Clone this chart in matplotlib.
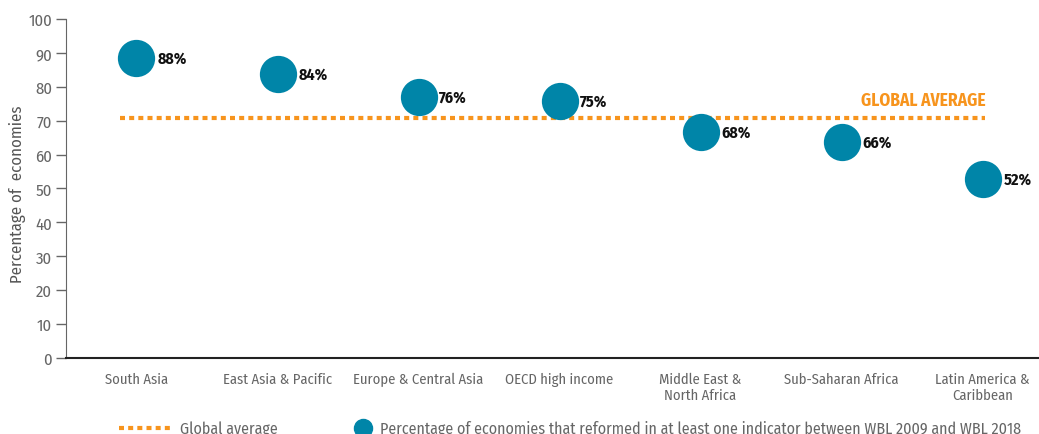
import matplotlib
matplotlib.use("Agg")
import matplotlib.pyplot as plt
from matplotlib.lines import Line2D

# data
regions = ["South Asia", "East Asia & Pacific", "Europe & Central Asia", "OECD high income",
           "Middle East &\nNorth Africa", "Sub-Saharan Africa", "Latin America &\nCaribbean"]
dot_values = [88.5, 83.8, 77.0, 75.8, 66.6, 63.6, 52.9]
value_labels = ["88%", "84%", "76%", "75%", "68%", "66%", "52%"]
global_avg = 70.8

teal = "#0085A8"
orange = "#F7941D"
grey = "#666666"

plt.rcParams['font.family'] = ['Fira Sans Condensed', 'Roboto Condensed', 'Barlow Semi Condensed',
                               'Asap Condensed', 'DejaVu Sans']

fig = plt.figure(figsize=(10.39, 4.35), dpi=100)
ax = fig.add_axes([0.0635, 0.175, 0.9365, 0.779])

x = list(range(len(regions)))
ax.plot([-0.12, 6.02], [global_avg, global_avg], color=orange, lw=3, ls=(0, (1.2, 1.0)), zorder=1)
ax.scatter(x, dot_values, s=720, color=teal, zorder=3, linewidths=0)

for xi, yv, lab in zip(x, dot_values, value_labels):
    ax.annotate(lab, (xi, yv), xytext=(15, 0), textcoords="offset points",
                ha="left", va="center", fontsize=11.5, fontweight="bold", color="#111111")

ax.text(6.02, global_avg + 5.4, "GLOBAL AVERAGE", color=orange, fontsize=12.5,
        fontweight="bold", ha="right", va="center")

ax.set_xlim(-0.5, 6.4)
ax.set_ylim(0, 100)
ax.set_yticks(range(0, 101, 10))
ax.set_xticks(x)
ax.set_xticklabels(regions, fontsize=10.5, color=grey)
ax.tick_params(axis="x", length=0, pad=10)
ax.tick_params(axis="y", length=7, width=1, color=grey, labelcolor=grey, labelsize=12, pad=3)
ax.set_ylabel("Percentage of  economies", fontsize=12, color="#555555")
ax.yaxis.set_label_coords(-0.041, 0.487)

for s in ["top", "right"]:
    ax.spines[s].set_visible(False)
ax.spines["left"].set_color(grey)
ax.spines["bottom"].set_color("#222222")
ax.spines["bottom"].set_linewidth(1.5)

avg_handle = Line2D([], [], color=orange, lw=3, ls=(0, (1.2, 1.0)))
dot_handle = Line2D([], [], marker="o", color=teal, ls="", markersize=13)
fig.legend([avg_handle], ["Global average"], loc="center left",
           bbox_to_anchor=(0.101, 0.012), frameon=False, labelcolor=grey,
           handlelength=3.4, handletextpad=0.4, prop={"size": 11.5})
fig.legend([dot_handle],
           ["Percentage of economies that reformed in at least one indicator between WBL 2009 and WBL 2018"],
           loc="center left", bbox_to_anchor=(0.326, 0.012), frameon=False, labelcolor=grey,
           handlelength=1.2, handletextpad=0.5, prop={"size": 11.5})

fig.savefig("out.png", dpi=100)
